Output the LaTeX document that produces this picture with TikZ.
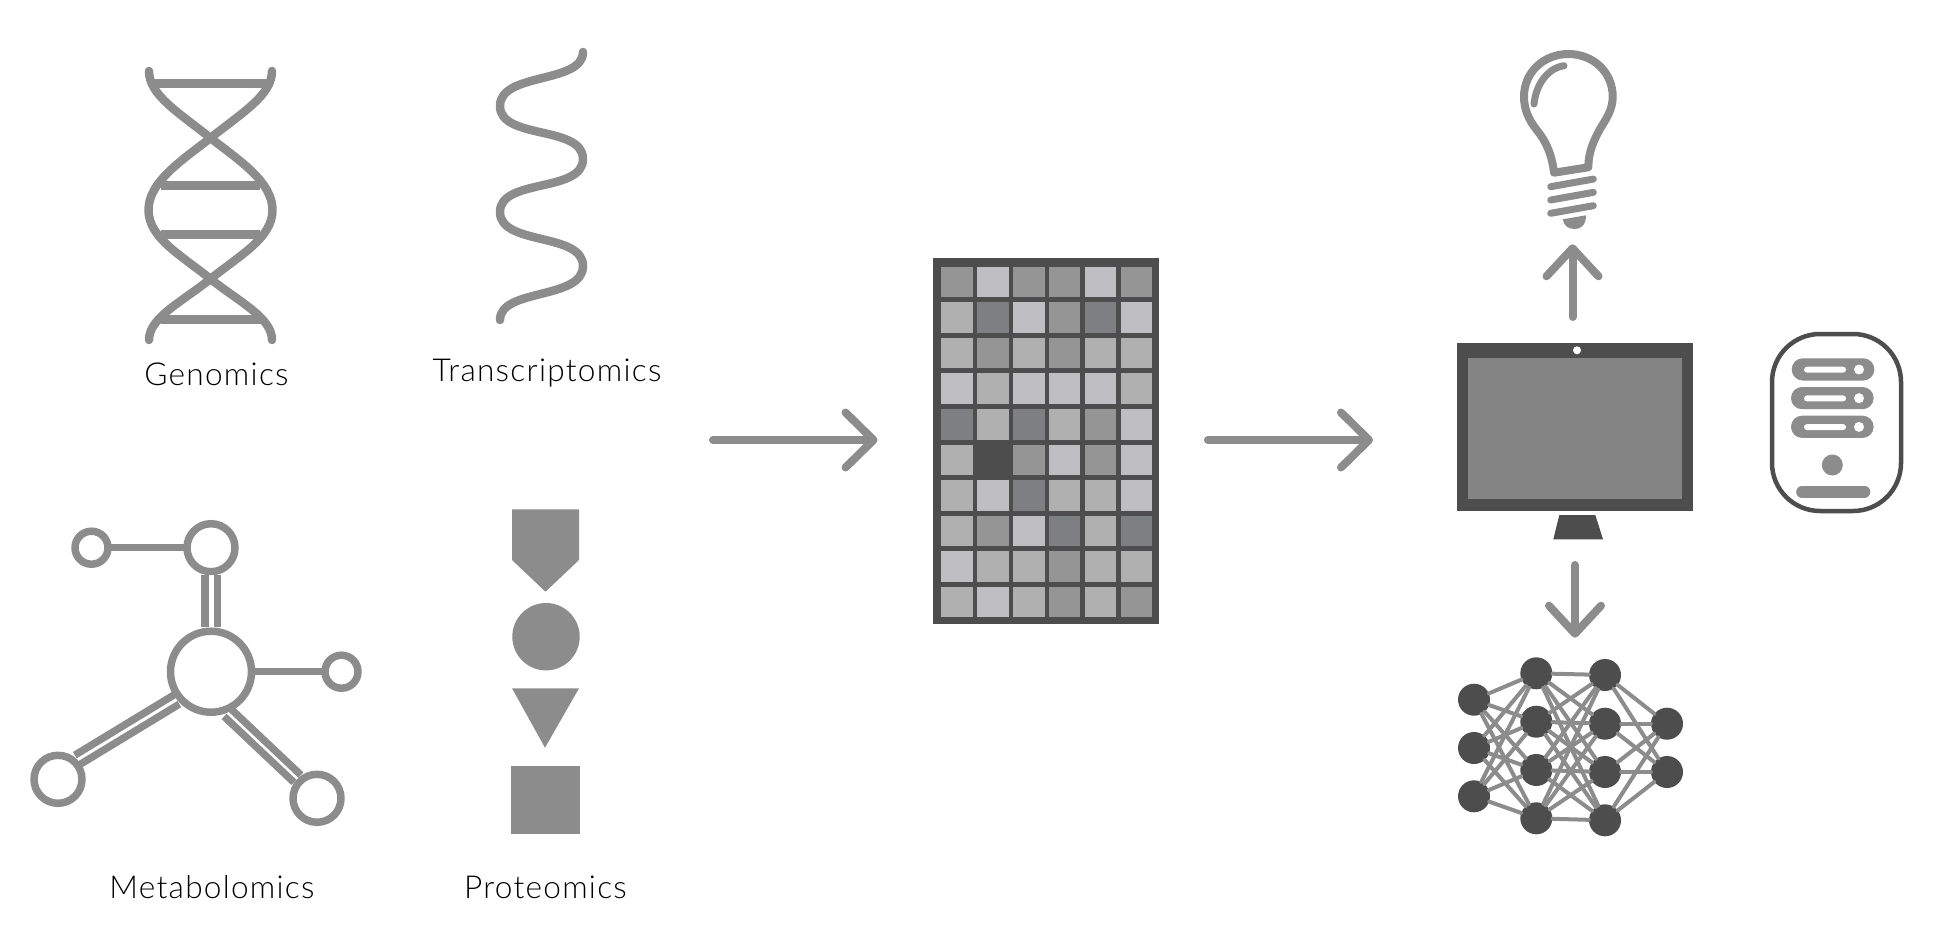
\documentclass[tikz,border=0pt]{standalone}
\usepackage{fontspec}
\setmainfont{Lato}[UprightFont=* Light,LetterSpace=4]
\usetikzlibrary{arrows.meta}
\definecolor{iconGray}{HTML}{8C8C8C}
\definecolor{darkGray}{HTML}{4D4D4D}
\definecolor{screenGray}{HTML}{848484}
\definecolor{cellM}{HTML}{959595}
\definecolor{cellL}{HTML}{BFBFC3}
\definecolor{cellG}{HTML}{B0B0B0}
\definecolor{cellD}{HTML}{7E7F83}
\definecolor{cellK}{HTML}{4D4D4D}
\tikzset{
	omicslabel/.style={anchor=base,inner sep=0pt,font=\fontsize{31.6}{36}\selectfont},
	strand/.style={draw=iconGray,line width=8.5pt},
	rung/.style={draw=iconGray,line width=8.5pt,line cap=butt},
	atom/.style={circle,draw=iconGray,fill=white,line width=7.5pt,inner sep=0pt},
	bond/.style={draw=iconGray,line width=7.5pt},
	dbond/.style={double=white,draw=iconGray,line cap=butt,line width=7.5pt},
	flow/.style={draw=iconGray,line width=8pt,-{Straight Barb[length=28pt,width=#1,round]}},
	neuron/.style={circle,fill=darkGray,inner sep=0pt,minimum size=32pt},
	synapse/.style={draw=iconGray,line width=4pt},
	pill/.style={fill=iconGray,rounded corners=11pt},
	slit/.style={fill=white,rounded corners=3pt}
}
\begin{document}
\begin{tikzpicture}[x=1pt,y=-1pt,line join=round,line cap=round]
	\useasboundingbox (0,0) rectangle (1935,947);
	% dna
	\draw[strand] (149,71) .. controls (149,95) and (178,112) .. (210.5,138) .. controls (240,161) and (272.5,182) .. (272.5,210) .. controls (272.5,238) and (240,255) .. (210.5,279) .. controls (180,303) and (149,318) .. (149,340);
	\draw[strand] (272,71) .. controls (272,95) and (243,112) .. (210.5,138) .. controls (181,161) and (148.5,182) .. (148.5,210) .. controls (148.5,238) and (181,255) .. (210.5,279) .. controls (241,303) and (272,318) .. (272,340);
	\draw[rung] (152,83.3) -- (269,83.3);
	\draw[rung] (161,185.7) -- (260,185.7);
	\draw[rung] (161,234.3) -- (260,234.3);
	\draw[rung] (161,319.3) -- (261,319.3);
	\node[omicslabel] (genomics) at (216.5,385) {Genomics};
	% rna
	\draw[strand] (583,52) .. controls (583,84) and (500,72) .. (500,106) .. controls (500,140) and (583,125) .. (583,159) .. controls (583,193) and (500,178) .. (500,212) .. controls (500,246) and (583,232) .. (583,266) .. controls (583,300) and (500,288) .. (500,320);
	\node[omicslabel] (transcriptomics) at (547,381) {Transcriptomics};
	% molecule
	\node[atom,minimum size=81pt] (hub) at (211,671.7) {};
	\node[atom,minimum size=48pt] (up) at (211,547.7) {};
	\node[atom,minimum size=33pt] (upleft) at (91.5,547.7) {};
	\node[atom,minimum size=33pt] (side) at (341.5,671.7) {};
	\node[atom,minimum size=48pt] (downleft) at (58,779.3) {};
	\node[atom,minimum size=48pt] (downright) at (317,798.3) {};
	\draw[bond] (upleft) -- (up);
	\draw[bond] (hub) -- (side);
	\draw[dbond,double distance=5pt] (hub) -- (up);
	\draw[dbond,double distance=3pt] (hub.219) -- (downleft.45);
	\draw[dbond,double distance=2.5pt] (hub.292) -- (downright.135);
	\node[omicslabel] (metabolomics) at (212,898.3) {Metabolomics};
	% protein
	\fill[iconGray] (512,509.3) -- (579,509.3) -- (579,560) -- (545.5,591.7) -- (512,560) -- cycle;
	\fill[iconGray] (546,636.7) circle (33.7);
	\fill[iconGray] (512,688.3) -- (579,688.3) -- (545,747.7) -- cycle;
	\fill[iconGray] (510.7,765.7) rectangle (579.5,834.3);
	\node[omicslabel] (proteomics) at (545.5,898.3) {Proteomics};
	% data table
	\fill[darkGray] (933.3,258.3) rectangle (1158.8,624.3);
	\foreach \row [count=\j from 0] in {{M,L,M,M,L,M},{G,D,L,M,D,L},{G,M,G,M,G,G},{L,G,L,L,L,G},{D,G,D,G,M,L},{G,K,M,L,M,L},{G,L,D,G,G,L},{G,M,L,D,G,D},{L,G,G,M,G,G},{G,L,G,M,G,M}}
	\foreach \c [count=\i from 0] in \row
	\fill[cell\c] ({941.3+35.95*\i},{266.7+35.56*\j}) rectangle +(31.3,30.6);
	\fill[cellK] (972.6,441) rectangle (1011.4,478);
	% arrows
	\coordinate (inA) at (713,440);
	\coordinate (inB) at (877.5,440);
	\coordinate (outA) at (1208,440);
	\coordinate (outB) at (1373,440);
	\coordinate (upA) at (1572.5,317);
	\coordinate (upB) at (1572.5,244.3);
	\coordinate (downA) at (1575,565);
	\coordinate (downB) at (1575,637.7);
	\draw[flow=55pt] (inA) -- (inB);
	\draw[flow=55pt] (outA) -- (outB);
	\draw[flow=52pt] (upA) -- (upB);
	\draw[flow=52pt] (downA) -- (downB);
	% bulb
	\draw[strand,line width=8pt] (1554,172.7) .. controls (1552,155) and (1546,141) .. (1536.7,130) .. controls (1529,120) and (1524,110) .. (1524,96.7) .. controls (1524,72) and (1544,54) .. (1568.3,54) .. controls (1593,54) and (1612.7,72) .. (1612.7,96.7) .. controls (1612.7,110) and (1606,119) .. (1600,129) .. controls (1594,140) and (1588.3,152) .. (1588.3,167.3) -- cycle;
	\draw[iconGray,line width=7pt] (1534,104) .. controls (1536,84) and (1548,68) .. (1564,65.7);
	\foreach \y in {186.7,200,213.3}
	\draw[iconGray,line width=7pt] (1550.7,\y) -- (1593.3,\y-7.6);
	\fill[iconGray] (1562.7,219.3) -- (1586,215.3) .. controls (1586,225) and (1581,229) .. (1575,229) .. controls (1568,229) and (1564,226) .. cycle;
	% monitor
	\fill[darkGray] (1457,343.3) rectangle (1693,511);
	\fill[screenGray] (1467.7,358) rectangle (1682,499);
	\fill[white] (1577,350.3) circle (4);
	\fill[darkGray] (1559.3,515) -- (1595.3,515) -- (1603,539.3) -- (1553.3,539.3) -- cycle;
	% server
	\draw[darkGray,line width=4.5pt,rounded corners=48pt] (1772,334) rectangle (1901,511);
	\foreach \x/\y in {1791.7/358.3,1791/387,1791/415.7}{
		\fill[pill] (\x,\y) rectangle +(82.6,22.2);
		\fill[slit] (1804,\y+8.4) rectangle +(42,6);
		\fill[white] (1859,\y+11.2) circle (5);
	}
	\fill[iconGray] (1832.3,465) circle (10.5);
	\draw[iconGray,line width=11.7pt] (1802,491.8) -- (1864.5,491.8);
	% network
	\foreach \n/\x/\y in {a1/1474/699.7,a2/1474/748,a3/1474/796.3,b1/1536.3/673.3,b2/1536.3/721.7,b3/1536.3/770,b4/1536.3/818.3,c1/1605/675,c2/1605/723.7,c3/1605/772,c4/1605/820.3,d1/1667/723.7,d2/1667/772}
	\node[neuron] (\n) at (\x,\y) {};
	\foreach \p in {a1,a2,a3}
	\foreach \q in {b1,b2,b3,b4}
	\draw[synapse] (\p) -- (\q);
	\foreach \p in {b1,b2,b3,b4}
	\foreach \q in {c1,c2,c3,c4}
	\draw[synapse] (\p) -- (\q);
	\foreach \p in {c1,c2,c3,c4}
	\foreach \q in {d1,d2}
	\draw[synapse] (\p) -- (\q);
\end{tikzpicture}
\end{document}
